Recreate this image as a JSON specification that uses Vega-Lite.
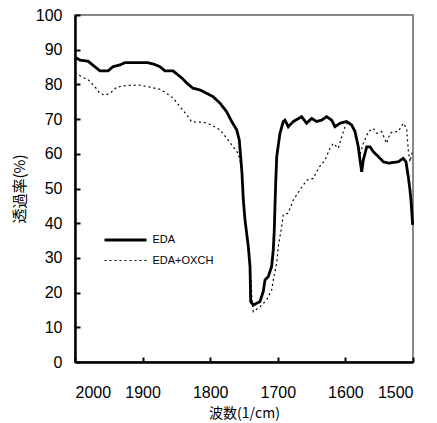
{
  "$schema": "https://vega.github.io/schema/vega-lite/v6.json",
  "autosize": "none",
  "padding": {"left": 75, "top": 15, "right": 24, "bottom": 61},
  "width": 338,
  "height": 347,
  "background": "white",
  "config": {
    "view": {"stroke": "#888888", "strokeWidth": 2},
    "font": "Liberation Sans"
  },
  "data": {"values": [
    {"s":"EDA","w":2000,"t":87.8},{"s":"EDA","w":1992.6,"t":87.0},{"s":"EDA","w":1980.8,"t":86.7},{"s":"EDA","w":1967.5,"t":84.6},{"s":"EDA","w":1963,"t":83.9},{"s":"EDA","w":1951.2,"t":83.9},{"s":"EDA","w":1943.8,"t":85.1},{"s":"EDA","w":1933.4,"t":85.6},{"s":"EDA","w":1926,"t":86.3},{"s":"EDA","w":1893.5,"t":86.3},{"s":"EDA","w":1884.6,"t":85.9},{"s":"EDA","w":1874.3,"t":85.1},{"s":"EDA","w":1866.9,"t":83.9},{"s":"EDA","w":1855,"t":83.9},{"s":"EDA","w":1841.7,"t":81.8},{"s":"EDA","w":1834.3,"t":80.3},{"s":"EDA","w":1825.5,"t":78.9},{"s":"EDA","w":1815,"t":78.4},{"s":"EDA","w":1804.8,"t":77.4},{"s":"EDA","w":1795.9,"t":76.5},{"s":"EDA","w":1785.5,"t":74.6},{"s":"EDA","w":1775.6,"t":72.1},{"s":"EDA","w":1768.2,"t":69.3},{"s":"EDA","w":1760.8,"t":66.9},{"s":"EDA","w":1757,"t":64.0},{"s":"EDA","w":1754.5,"t":58.2},{"s":"EDA","w":1753,"t":54.4},{"s":"EDA","w":1751,"t":46.7},{"s":"EDA","w":1748.5,"t":40.9},{"s":"EDA","w":1743.6,"t":33.2},{"s":"EDA","w":1741.1,"t":27.5},{"s":"EDA","w":1740.1,"t":17.4},{"s":"EDA","w":1736.3,"t":16.4},{"s":"EDA","w":1726.4,"t":17.4},{"s":"EDA","w":1721.5,"t":20.3},{"s":"EDA","w":1719,"t":23.6},{"s":"EDA","w":1714.1,"t":24.6},{"s":"EDA","w":1709.1,"t":27.5},{"s":"EDA","w":1706.7,"t":32.3},{"s":"EDA","w":1705.2,"t":38.0},{"s":"EDA","w":1704.2,"t":44.8},{"s":"EDA","w":1703.1,"t":51.6},{"s":"EDA","w":1701.6,"t":59.2},{"s":"EDA","w":1696.8,"t":65.9},{"s":"EDA","w":1691.9,"t":69.3},{"s":"EDA","w":1689.4,"t":69.7},{"s":"EDA","w":1684.5,"t":67.8},{"s":"EDA","w":1677.1,"t":69.3},{"s":"EDA","w":1664.7,"t":70.7},{"s":"EDA","w":1657.4,"t":68.8},{"s":"EDA","w":1649.9,"t":70.2},{"s":"EDA","w":1642.5,"t":69.3},{"s":"EDA","w":1635.1,"t":69.7},{"s":"EDA","w":1627.7,"t":70.7},{"s":"EDA","w":1620.3,"t":69.7},{"s":"EDA","w":1615.4,"t":67.8},{"s":"EDA","w":1608,"t":68.8},{"s":"EDA","w":1598.1,"t":69.3},{"s":"EDA","w":1590.7,"t":68.3},{"s":"EDA","w":1585.8,"t":66.4},{"s":"EDA","w":1580.9,"t":62.0},{"s":"EDA","w":1578.4,"t":58.2},{"s":"EDA","w":1575.9,"t":54.8},{"s":"EDA","w":1573.5,"t":58.2},{"s":"EDA","w":1568.5,"t":62.0},{"s":"EDA","w":1563.6,"t":62.0},{"s":"EDA","w":1558.7,"t":60.6},{"s":"EDA","w":1551.3,"t":59.2},{"s":"EDA","w":1543.9,"t":57.7},{"s":"EDA","w":1536.5,"t":57.3},{"s":"EDA","w":1521.7,"t":57.7},{"s":"EDA","w":1514.4,"t":58.7},{"s":"EDA","w":1510.4,"t":57.7},{"s":"EDA","w":1507,"t":53.4},{"s":"EDA","w":1504.5,"t":49.6},{"s":"EDA","w":1503,"t":46.7},{"s":"EDA","w":1500.5,"t":39.5},
    {"s":"EDA+OXCH","w":2000,"t":83.4},{"s":"EDA+OXCH","w":1990.1,"t":82.2},{"s":"EDA+OXCH","w":1980.3,"t":81.3},{"s":"EDA+OXCH","w":1970.4,"t":79.3},{"s":"EDA+OXCH","w":1963,"t":77.4},{"s":"EDA+OXCH","w":1955.6,"t":76.9},{"s":"EDA+OXCH","w":1948.2,"t":77.4},{"s":"EDA+OXCH","w":1938.3,"t":79.2},{"s":"EDA+OXCH","w":1923.5,"t":79.7},{"s":"EDA+OXCH","w":1903.9,"t":79.8},{"s":"EDA+OXCH","w":1889,"t":79.2},{"s":"EDA+OXCH","w":1874.3,"t":78.6},{"s":"EDA+OXCH","w":1864.4,"t":77.4},{"s":"EDA+OXCH","w":1854.6,"t":76.0},{"s":"EDA+OXCH","w":1844.7,"t":73.6},{"s":"EDA+OXCH","w":1834.8,"t":71.2},{"s":"EDA+OXCH","w":1827.4,"t":69.2},{"s":"EDA+OXCH","w":1810.2,"t":69.1},{"s":"EDA+OXCH","w":1797.8,"t":68.3},{"s":"EDA+OXCH","w":1785.5,"t":66.9},{"s":"EDA+OXCH","w":1775.6,"t":64.5},{"s":"EDA+OXCH","w":1765.9,"t":62.0},{"s":"EDA+OXCH","w":1758.5,"t":60.1},{"s":"EDA+OXCH","w":1756,"t":58.2},{"s":"EDA+OXCH","w":1753.5,"t":55.3},{"s":"EDA+OXCH","w":1750.8,"t":46.7},{"s":"EDA+OXCH","w":1747.8,"t":39.5},{"s":"EDA+OXCH","w":1743.4,"t":32.3},{"s":"EDA+OXCH","w":1739.7,"t":23.6},{"s":"EDA+OXCH","w":1738.2,"t":17.9},{"s":"EDA+OXCH","w":1736.3,"t":14.5},{"s":"EDA+OXCH","w":1726.4,"t":15.9},{"s":"EDA+OXCH","w":1716.5,"t":17.9},{"s":"EDA+OXCH","w":1709.1,"t":20.7},{"s":"EDA+OXCH","w":1706.7,"t":23.6},{"s":"EDA+OXCH","w":1701.7,"t":28.4},{"s":"EDA+OXCH","w":1699.3,"t":33.2},{"s":"EDA+OXCH","w":1694.3,"t":39.0},{"s":"EDA+OXCH","w":1691.9,"t":42.4},{"s":"EDA+OXCH","w":1684.5,"t":42.9},{"s":"EDA+OXCH","w":1677.1,"t":46.7},{"s":"EDA+OXCH","w":1667.2,"t":49.6},{"s":"EDA+OXCH","w":1657.3,"t":52.4},{"s":"EDA+OXCH","w":1647.5,"t":52.9},{"s":"EDA+OXCH","w":1640.1,"t":55.8},{"s":"EDA+OXCH","w":1630.2,"t":58.2},{"s":"EDA+OXCH","w":1622.8,"t":61.6},{"s":"EDA+OXCH","w":1617.9,"t":63.0},{"s":"EDA+OXCH","w":1610.5,"t":61.6},{"s":"EDA+OXCH","w":1605.5,"t":64.9},{"s":"EDA+OXCH","w":1600.6,"t":67.8},{"s":"EDA+OXCH","w":1595.7,"t":69.3},{"s":"EDA+OXCH","w":1590.7,"t":68.3},{"s":"EDA+OXCH","w":1585.8,"t":66.0},{"s":"EDA+OXCH","w":1580.9,"t":62.0},{"s":"EDA+OXCH","w":1578.4,"t":59.7},{"s":"EDA+OXCH","w":1573.5,"t":63.0},{"s":"EDA+OXCH","w":1566.1,"t":66.4},{"s":"EDA+OXCH","w":1558.7,"t":67.3},{"s":"EDA+OXCH","w":1553.7,"t":65.9},{"s":"EDA+OXCH","w":1546.4,"t":66.4},{"s":"EDA+OXCH","w":1539,"t":63.0},{"s":"EDA+OXCH","w":1534.1,"t":65.9},{"s":"EDA+OXCH","w":1529.2,"t":66.4},{"s":"EDA+OXCH","w":1521.8,"t":66.4},{"s":"EDA+OXCH","w":1514.4,"t":68.8},{"s":"EDA+OXCH","w":1509.4,"t":67.3},{"s":"EDA+OXCH","w":1507,"t":61.1},{"s":"EDA+OXCH","w":1504.5,"t":57.7},{"s":"EDA+OXCH","w":1500.5,"t":61.1}
  ]},
  "mark": {"type": "line", "color": "black", "interpolate": "linear"},
  "encoding": {
    "x": {
      "field": "w", "type": "quantitative",
      "scale": {"domain": [1500, 2000], "reverse": true, "nice": false, "zero": false},
      "axis": {
        "values": [2000, 1900, 1800, 1700, 1600, 1500],
        "format": "d",
        "grid": false,
        "domainColor": "black", "domainWidth": 2.5,
        "tickColor": "black", "tickWidth": 2, "tickSize": -5,
        "labelFontSize": 16, "labelColor": "black", "labelPadding": 27,
        "labelFont": "Liberation Sans",
        "title": "波数(1/cm)", "titleFontSize": 14, "titleFontWeight": "normal",
        "titleFont": "Noto Sans CJK JP", "titleColor": "black", "titlePadding": 6
      }
    },
    "y": {
      "field": "t", "type": "quantitative",
      "scale": {"domain": [0, 100], "nice": false},
      "axis": {
        "values": [0, 10, 20, 30, 40, 50, 60, 70, 80, 90, 100],
        "grid": false,
        "domainColor": "black", "domainWidth": 2.5,
        "tickColor": "black", "tickWidth": 2, "tickSize": -5,
        "labelFontSize": 16, "labelColor": "black", "labelPadding": 18,
        "labelFont": "Liberation Sans",
        "title": "透過率(%)", "titleFontSize": 15, "titleFontWeight": "normal",
        "titleFont": "Noto Sans CJK JP", "titleColor": "black", "titlePadding": 8
      }
    },
    "strokeDash": {
      "field": "s", "type": "nominal",
      "scale": {"domain": ["EDA", "EDA+OXCH"], "range": [[1, 0], [2, 3]]},
      "legend": {
        "orient": "none", "legendX": 38.5, "legendY": 213,
        "title": null, "symbolType": "M-2,0H2", "symbolSize": 441,
        "symbolStrokeColor": "black", "symbolStrokeWidth": 2.5, "symbolFillColor": "transparent",
        "labelFontSize": 11, "labelColor": "black", "labelFont": "Liberation Sans",
        "labelOffset": 15, "rowPadding": 3
      }
    },
    "strokeWidth": {
      "field": "s", "type": "nominal",
      "scale": {"domain": ["EDA", "EDA+OXCH"], "range": [2.8, 1.2]},
      "legend": null
    }
  }
}
